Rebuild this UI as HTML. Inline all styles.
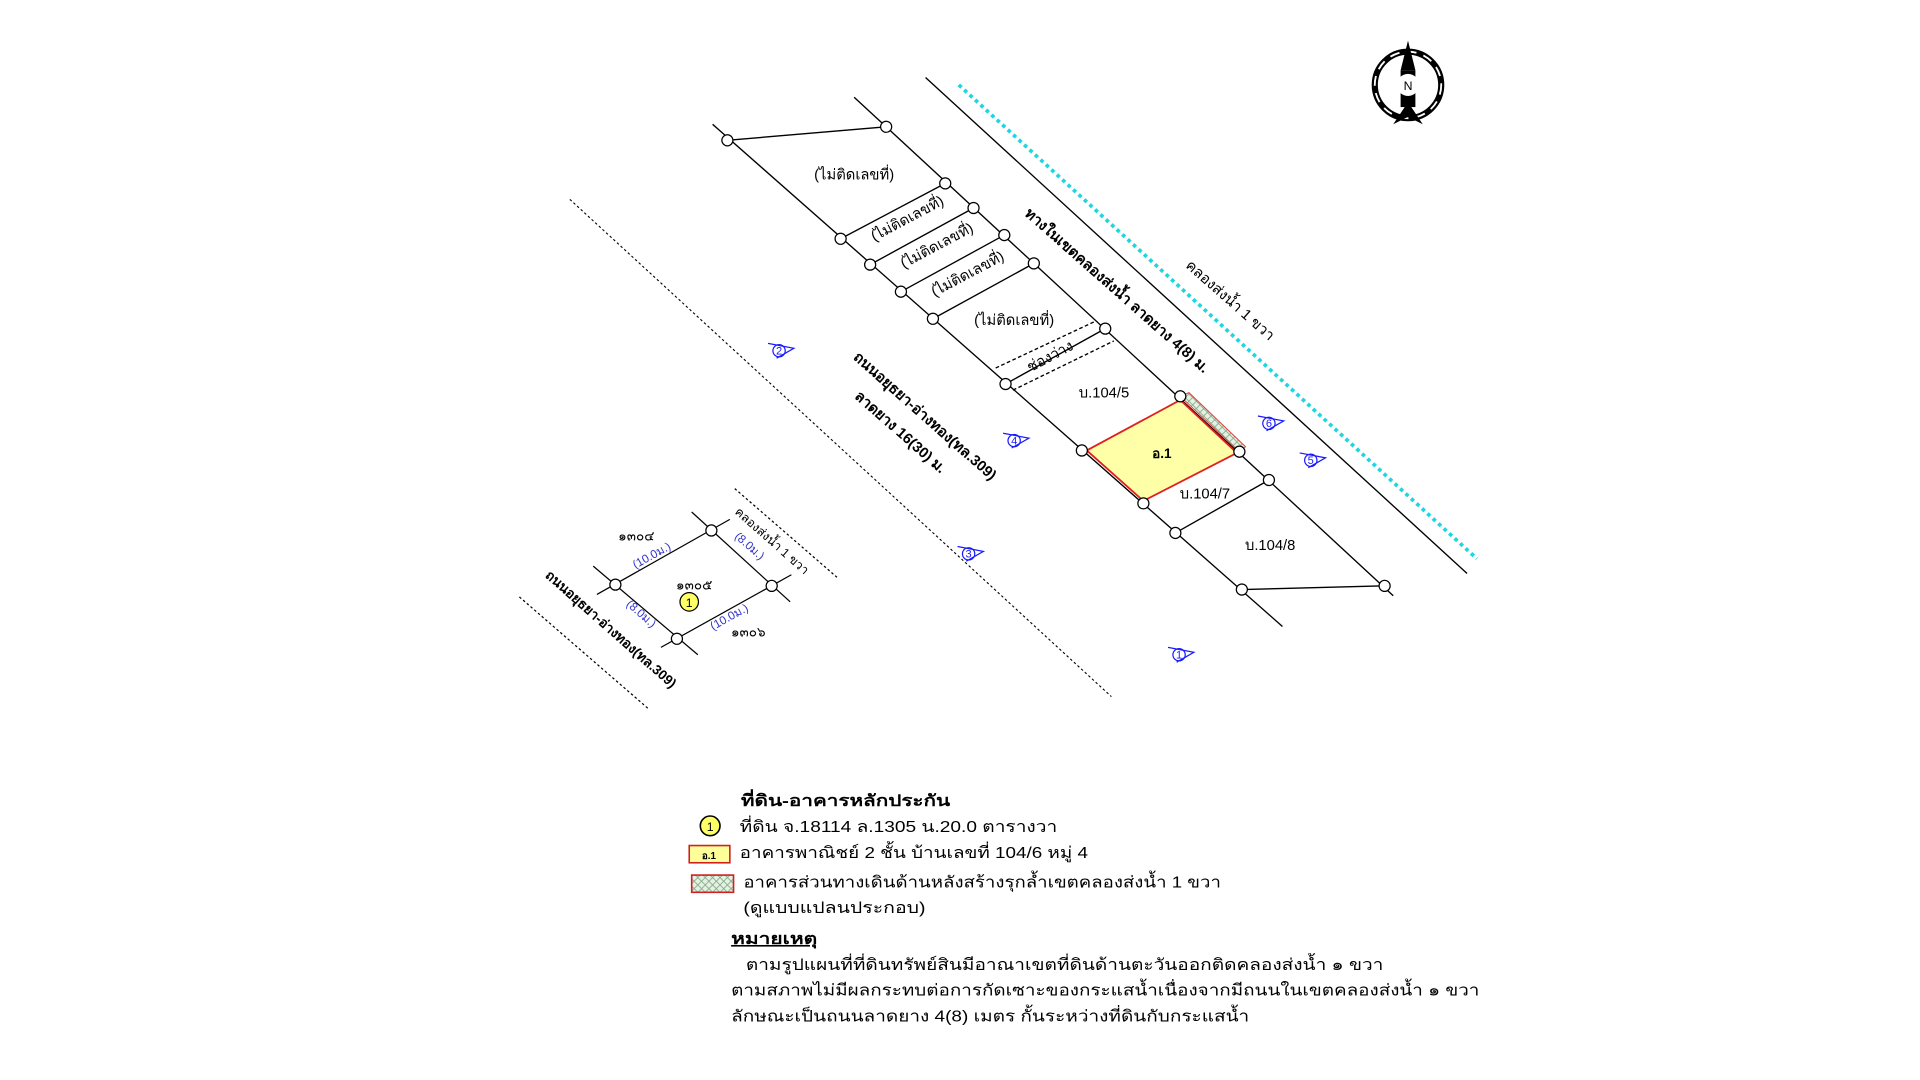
<!DOCTYPE html>
<html><head><meta charset="utf-8"><style>
html,body{margin:0;padding:0;background:#fff;}
svg{display:block;}
text{font-family:"Liberation Sans","Noto Sans CJK SC",sans-serif;}
</style></head><body>
<svg width="1920" height="1080" viewBox="0 0 1560 877.5" xmlns="http://www.w3.org/2000/svg">
<defs>
<pattern id="hx" width="6" height="6" patternUnits="userSpaceOnUse">
<rect width="6" height="6" fill="#e4f2e4"/><path d="M0 0L6 6M6 0L0 6" stroke="#8a8" stroke-width="0.7"/>
</pattern>
</defs>
<g transform="translate(-3,-1)">
<g stroke="#000" stroke-width="1.1" fill="none">
<line x1="582" y1="102" x2="1045" y2="510"/>
<line x1="697" y1="80" x2="1135" y2="485"/>
<line x1="755" y1="64" x2="1195" y2="467"/>
<line x1="466" y1="163" x2="906" y2="567" stroke-dasharray="2,2" stroke-width="0.9"/>
<line x1="594" y1="115" x2="723" y2="104"/>
<line x1="686" y1="195" x2="771" y2="150"/>
<line x1="710" y1="216" x2="794" y2="170"/>
<line x1="735" y1="238" x2="819" y2="192"/>
<line x1="761" y1="260" x2="843" y2="215"/>
<line x1="812" y1="300" x2="893" y2="262" stroke-dasharray="3,2"/>
<line x1="826" y1="318" x2="908" y2="278" stroke-dasharray="3,2"/>
<line x1="820" y1="313" x2="901" y2="268"/>
<line x1="958" y1="434" x2="1034" y2="391"/>
<line x1="1012" y1="480" x2="1128" y2="477"/>
</g>
<line x1="782" y1="70" x2="1203" y2="455" stroke="#1fd6e0" stroke-width="3" stroke-dasharray="3,3"/>
<polygon points="962,323 969,320 1015,364 1010,368" fill="url(#hx)" stroke="#e04040" stroke-width="0.8"/>
<polygon points="886,367 962,326 1008,369 932,408" fill="#ffffa8" stroke="#e02020" stroke-width="1.5"/>
<g fill="#fff" stroke="#000" stroke-width="1">
<circle cx="594" cy="115" r="4.5"/><circle cx="723" cy="104" r="4.5"/>
<circle cx="771" cy="150" r="4.5"/><circle cx="686" cy="195" r="4.5"/>
<circle cx="794" cy="170" r="4.5"/><circle cx="710" cy="216" r="4.5"/>
<circle cx="819" cy="192" r="4.5"/><circle cx="735" cy="238" r="4.5"/>
<circle cx="843" cy="215" r="4.5"/><circle cx="761" cy="260" r="4.5"/>
<circle cx="901" cy="268" r="4.5"/><circle cx="820" cy="313" r="4.5"/>
<circle cx="962" cy="323" r="4.5"/><circle cx="882" cy="367" r="4.5"/>
<circle cx="1010" cy="368" r="4.5"/><circle cx="932" cy="410" r="4.5"/>
<circle cx="1034" cy="391" r="4.5"/><circle cx="958" cy="434" r="4.5"/>
<circle cx="1012" cy="480" r="4.5"/><circle cx="1128" cy="477" r="4.5"/>
</g>
<g font-size="12" fill="#000">
<text x="697" y="147" text-anchor="middle">(ไม่ติดเลขที่)</text>
<text x="742" y="182" text-anchor="middle" transform="rotate(-28 742 182)">(ไม่ติดเลขที่)</text>
<text x="766" y="204" text-anchor="middle" transform="rotate(-28 766 204)">(ไม่ติดเลขที่)</text>
<text x="791" y="227" text-anchor="middle" transform="rotate(-28 791 227)">(ไม่ติดเลขที่)</text>
<text x="827" y="265" text-anchor="middle">(ไม่ติดเลขที่)</text>
<text x="858" y="294" text-anchor="middle" transform="rotate(-28 858 294)">ช่องว่าง</text>
<text x="900" y="324" text-anchor="middle">บ.104/5</text>
<text x="947" y="373" text-anchor="middle" font-weight="bold" font-size="11">อ.1</text>
<text x="982" y="406" text-anchor="middle">บ.104/7</text>
<text x="1035" y="448" text-anchor="middle">บ.104/8</text>
<text x="908" y="240" text-anchor="middle" font-weight="bold" transform="rotate(41.5 908 240)">ทางในเขตคลองส่งน้ำ ลาดยาง 4(8) ม.</text>
<text x="1000" y="248" text-anchor="middle" transform="rotate(41.5 1000 248)">คลองส่งน้ำ 1 ขวา</text>
<text x="752" y="342" text-anchor="middle" font-weight="bold" transform="rotate(41.5 752 342)">ถนนอยุธยา-อ่างทอง(ทล.309)</text>
<text x="732" y="355" text-anchor="middle" font-weight="bold" transform="rotate(41.5 732 355)">ลาดยาง 16(30) ม.</text>
</g>
<g stroke="#1a1aff" stroke-width="1" fill="none">
<g transform="translate(636,286)"><circle r="5"/><path d="M-9 -6L12 -2L-2 6"/></g>
<g transform="translate(827,359)"><circle r="5"/><path d="M-9 -6L12 -2L-2 6"/></g>
<g transform="translate(790,451)"><circle r="5"/><path d="M-9 -6L12 -2L-2 6"/></g>
<g transform="translate(961,533)"><circle r="5"/><path d="M-9 -6L12 -2L-2 6"/></g>
<g transform="translate(1068,375)"><circle r="5"/><path d="M-9 -6L12 -2L-2 6"/></g>
<g transform="translate(1034,345)"><circle r="5"/><path d="M-9 -6L12 -2L-2 6"/></g>
</g>
<g font-size="9" fill="#1a1aff" text-anchor="middle">
<text x="636" y="289">2</text><text x="827" y="362">4</text><text x="790" y="454">3</text>
<text x="961" y="536">1</text><text x="1068" y="378">5</text><text x="1034" y="348">6</text>
</g>
<g stroke="#000" stroke-width="1" fill="none">
<line x1="485" y1="461" x2="570" y2="533"/>
<line x1="565" y1="417" x2="645" y2="490"/>
<line x1="488" y1="484" x2="596" y2="423"/>
<line x1="540" y1="527" x2="646" y2="468"/>
<line x1="600" y1="398" x2="683" y2="470" stroke-dasharray="2,2"/>
<line x1="425" y1="486" x2="530" y2="577" stroke-dasharray="2,2"/>
</g>
<g fill="#fff" stroke="#000"><circle cx="503" cy="476" r="4.5"/><circle cx="581" cy="432" r="4.5"/><circle cx="630" cy="477" r="4.5"/><circle cx="553" cy="520" r="4.5"/></g>
<circle cx="563" cy="490" r="7.5" fill="#ffff66" stroke="#000"/>
<text x="563" y="494" font-size="10" text-anchor="middle">1</text>
<g font-size="11" fill="#000">
<text x="520" y="440" text-anchor="middle">๑๓๐๔</text>
<text x="567" y="480" text-anchor="middle">๑๓๐๕</text>
<text x="611" y="518" text-anchor="middle">๑๓๐๖</text>
<text x="628" y="443" text-anchor="middle" font-size="10" transform="rotate(41.5 628 443)">คลองส่งน้ำ 1 ขวา</text>
<text x="497" y="515" text-anchor="middle" font-size="11" font-weight="bold" transform="rotate(41.5 497 515)">ถนนอยุธยา-อ่างทอง(ทล.309)</text>
</g>
<g font-size="9.5" fill="#3333cc" text-anchor="middle">
<text x="534" y="455" transform="rotate(-29 534 455)">(10.0ม.)</text>
<text x="610" y="447" transform="rotate(41.5 610 447)">(8.0ม.)</text>
<text x="522" y="502" transform="rotate(41.5 522 502)">(8.0ม.)</text>
<text x="597" y="505" transform="rotate(-29 597 505)">(10.0ม.)</text>
</g>
<g transform="translate(1147,70)">
<circle r="27" fill="none" stroke="#000" stroke-width="5"/>
<circle r="27" fill="none" stroke="#fff" stroke-width="1.5" stroke-dasharray="8,6"/>
<polygon points="0,-36 6,-12 -6,-12" fill="#000"/>
<polygon points="0,14 12,32 0,26 -12,32" fill="#000"/>
<rect x="-6" y="-12" width="12" height="30" fill="#000"/>
<circle r="9" fill="#fff"/>
<text y="4" font-size="10" text-anchor="middle" fill="#000">N</text>
</g>
<g font-size="13" fill="#000">
<text x="605" y="656" font-weight="bold" textLength="170" lengthAdjust="spacingAndGlyphs">ที่ดิน-อาคารหลักประกัน</text>
<circle cx="580" cy="672" r="8" fill="#ffff66" stroke="#000" stroke-width="1.3"/>
<text x="580" y="676" font-size="10" text-anchor="middle">1</text>
<text x="604" y="677" textLength="258" lengthAdjust="spacingAndGlyphs">ที่ดิน จ.18114 ล.1305 น.20.0 ตารางวา</text>
<rect x="563" y="688" width="33" height="14" fill="#ffff99" stroke="#d02020" stroke-width="1.3"/>
<text x="579" y="699" font-size="8" text-anchor="middle" font-weight="bold">อ.1</text>
<text x="604" y="698" textLength="283" lengthAdjust="spacingAndGlyphs">อาคารพาณิชย์ 2 ชั้น บ้านเลขที่ 104/6 หมู่ 4</text>
<rect x="565" y="712" width="34" height="14" fill="url(#hx)" stroke="#d02020" stroke-width="1.3"/>
<text x="607" y="722" textLength="388" lengthAdjust="spacingAndGlyphs">อาคารส่วนทางเดินด้านหลังสร้างรุกล้ำเขตคลองส่งน้ำ 1 ขวา</text>
<text x="607" y="743" textLength="148" lengthAdjust="spacingAndGlyphs">(ดูแบบแปลนประกอบ)</text>
<text x="597" y="768" font-weight="bold" text-decoration="underline" textLength="70" lengthAdjust="spacingAndGlyphs">หมายเหตุ</text>
<text x="609" y="789" textLength="518" lengthAdjust="spacingAndGlyphs">ตามรูปแผนที่ที่ดินทรัพย์สินมีอาณาเขตที่ดินด้านตะวันออกติดคลองส่งน้ำ  ๑ ขวา</text>
<text x="597" y="810" textLength="608" lengthAdjust="spacingAndGlyphs">ตามสภาพไม่มีผลกระทบต่อการกัดเซาะของกระแสน้ำเนื่องจากมีถนนในเขตคลองส่งน้ำ  ๑ ขวา</text>
<text x="597" y="831" textLength="421" lengthAdjust="spacingAndGlyphs">ลักษณะเป็นถนนลาดยาง 4(8) เมตร กั้นระหว่างที่ดินกับกระแสน้ำ</text>
</g>
</g>
</svg>
</body></html>
